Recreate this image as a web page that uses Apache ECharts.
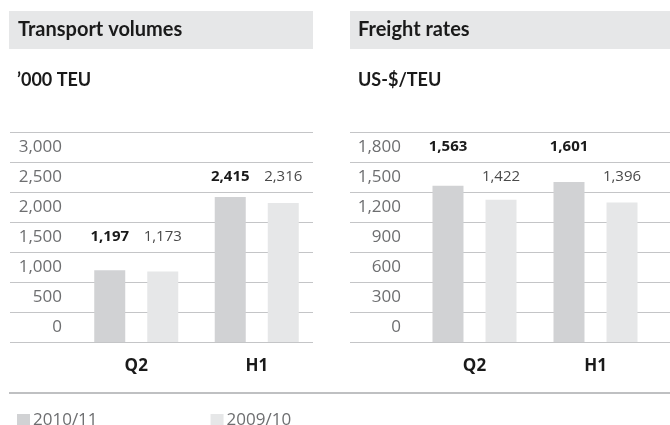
<!DOCTYPE html>
<html>
<head>
<meta charset="utf-8">
<script src="https://cdn.jsdelivr.net/npm/echarts@6/dist/echarts.min.js"></script>
<style>
  html, body { margin: 0; padding: 0; background: #fff; }
  #chart { width: 670px; height: 425px; }
</style>
</head>
<body>
<div id="chart"></div>
<script>
// data
const categories = ["Q2", "H1"];
const seriesNames = ["2010/11", "2009/10"];
const volumes2010 = [1197, 2415];
const volumes2009 = [1173, 2316];
const rates2010 = [1563, 1601];
const rates2009 = [1422, 1396];
// y scales: ticks run from 0 to max in steps, the max line carries no label
const volumeMax = 3500, volumeStep = 500;
const rateMax = 2100, rateStep = 300;

const darkGrey = "#d1d2d4";
const lightGrey = "#e6e7e8";
const numFont = "'Open Sans', sans-serif";
const headFont = "Lato, 'Open Sans', sans-serif";

function fmt(v) {
  return v.toLocaleString("en-US");
}

// value labels sit in the row above the one holding the bar top
function labelGap(values, step) {
  return values.map(v => (Math.floor(v / step) + 2) * step - v);
}

function barSeries(idx, name, stack, values, step, bold) {
  return [
    {
      name: name,
      type: "bar",
      xAxisIndex: idx, yAxisIndex: idx,
      stack: stack,
      data: values,
      barWidth: 31,
      barGap: "71%",
      silent: true,
      itemStyle: { color: bold ? darkGrey : lightGrey },
      emphasis: { disabled: true }
    },
    {
      name: "label-" + name,
      type: "bar",
      xAxisIndex: idx, yAxisIndex: idx,
      stack: stack,
      data: labelGap(values, step),
      barWidth: 31,
      barGap: "71%",
      silent: true,
      itemStyle: { color: "rgba(0,0,0,0)" },
      emphasis: { disabled: true },
      label: {
        show: true,
        position: "insideTop",
        distance: 0,
        lineHeight: 30,
        fontFamily: numFont,
        fontSize: 15,
        fontWeight: bold ? "bold" : "normal",
        color: bold ? "#1a1a1a" : "#4a4a4a",
        formatter: p => fmt(values[p.dataIndex])
      }
    }
  ];
}

function lineYAxis(idx, max, step, margin) {
  return {
    gridIndex: idx,
    type: "value",
    min: 0, max: max, interval: step,
    axisLine: { show: false },
    axisTick: { show: false },
    splitLine: { lineStyle: { color: "#c4c5c7", width: 1 } },
    axisLabel: {
      inside: true,
      margin: margin,
      align: "right",
      verticalAlign: "bottom",
      lineHeight: 30,
      fontFamily: numFont,
      fontSize: 17,
      color: "#6d6e70",
      showMaxLabel: false,
      formatter: v => (v >= max ? "" : fmt(v))
    }
  };
}

function barYAxis(idx, max, step) {
  return {
    gridIndex: idx,
    type: "value",
    min: 0, max: max, interval: step,
    show: false
  };
}

function catXAxis(idx) {
  return {
    gridIndex: idx,
    type: "category",
    data: categories,
    axisLine: { show: false },
    axisTick: { show: false },
    axisLabel: {
      margin: 16,
      fontFamily: numFont,
      fontSize: 17,
      fontWeight: "bold",
      color: "#1a1a1a"
    }
  };
}

function blankXAxis(idx) {
  return { gridIndex: idx, type: "value", show: false };
}

let myChart = echarts.init(document.getElementById("chart"));
myChart.setOption({
  animation: false,
  legend: {
    data: seriesNames,
    left: 17,
    top: 412,
    padding: 0,
    icon: "rect",
    itemWidth: 13,
    itemHeight: 13,
    itemGap: 113,
    selectedMode: false,
    textStyle: {
      fontFamily: numFont,
      fontSize: 17,
      color: "#6d6e70",
      padding: [0, 0, 0, -2]
    }
  },
  grid: [
    // line + tick grids (full width)
    { left: 10, top: 132, width: 303, height: 210, outerBoundsMode: "none" },
    { left: 350, top: 132, width: 320, height: 210, outerBoundsMode: "none" },
    // bar grids
    { left: 76, top: 132, width: 241, height: 210, outerBoundsMode: "none" },
    { left: 414, top: 132, width: 242, height: 210, outerBoundsMode: "none" }
  ],
  xAxis: [blankXAxis(0), blankXAxis(1), catXAxis(2), catXAxis(3)],
  yAxis: [
    lineYAxis(0, volumeMax, volumeStep, 52),
    lineYAxis(1, rateMax, rateStep, 51),
    barYAxis(2, volumeMax, volumeStep),
    barYAxis(3, rateMax, rateStep)
  ],
  series: [
    ...barSeries(2, seriesNames[0], "volCur", volumes2010, volumeStep, true),
    ...barSeries(2, seriesNames[1], "volPrev", volumes2009, volumeStep, false),
    ...barSeries(3, seriesNames[0], "rateCur", rates2010, rateStep, true),
    ...barSeries(3, seriesNames[1], "ratePrev", rates2009, rateStep, false)
  ],
  graphic: [
    { type: "rect", shape: { x: 9, y: 11, width: 304, height: 38 }, style: { fill: lightGrey }, silent: true },
    { type: "rect", shape: { x: 350, y: 11, width: 320, height: 38 }, style: { fill: lightGrey }, silent: true },
    {
      type: "text", x: 18, y: 30,
      style: { text: "Transport volumes", font: "bold 20px " + headFont, fill: "#1a1a1a", verticalAlign: "middle" }
    },
    {
      type: "text", x: 358, y: 30,
      style: { text: "Freight rates", font: "bold 20px " + headFont, fill: "#1a1a1a", verticalAlign: "middle" }
    },
    {
      type: "text", x: 17, y: 80,
      style: { text: "\u2019000 TEU", font: "bold 18px " + headFont, fill: "#1a1a1a", verticalAlign: "middle" }
    },
    {
      type: "text", x: 358, y: 80,
      style: { text: "US-$/TEU", font: "bold 18px " + headFont, fill: "#1a1a1a", verticalAlign: "middle" }
    },
    { type: "rect", shape: { x: 9, y: 392, width: 661, height: 2 }, style: { fill: "#bfc0c2" }, silent: true }
  ]
});
</script>
</body>
</html>
